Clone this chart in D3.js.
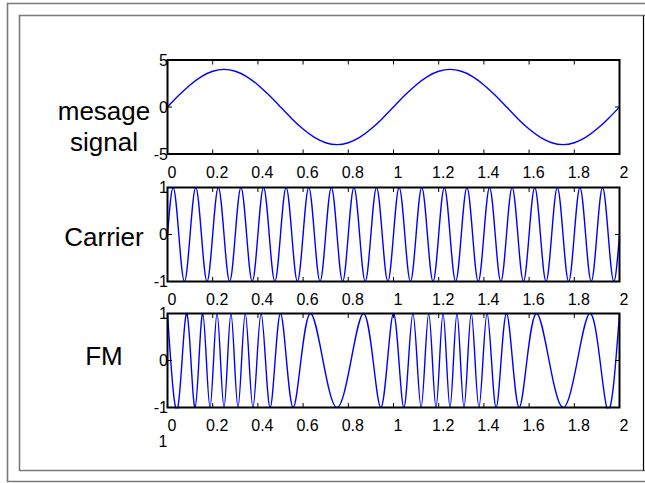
<!DOCTYPE html>
<html>
<head>
<meta charset="utf-8">
<script src="https://cdn.jsdelivr.net/npm/d3@7"></script>
<style>
  body { margin: 0; background: #fff; }
  svg text { font-family: Arial, "Liberation Sans", Helvetica, sans-serif; fill: #000; }
</style>
</head>
<body>
<svg id="chart"></svg>
<script>
// x axis ticks (time, s)
const xTicks = [0, 0.2, 0.4, 0.6, 0.8, 1, 1.2, 1.4, 1.6, 1.8, 2];
const xTickLabels = ["0", "0.2", "0.4", "0.6", "0.8", "1", "1.2", "1.4", "1.6", "1.8", "2"];

// message signal, sampled every 0.05 s
const messageStep = 0.05;
const messageValues = [
  0, 1.24, 2.35, 3.24, 3.80, 4.00, 3.80, 3.24, 2.35, 1.24,
  0, -1.24, -2.35, -3.24, -3.80, -4.00, -3.80, -3.24, -2.35, -1.24,
  0, 1.24, 2.35, 3.24, 3.80, 4.00, 3.80, 3.24, 2.35, 1.24,
  0, -1.24, -2.35, -3.24, -3.80, -4.00, -3.80, -3.24, -2.35, -1.24,
  0
];

// carrier, read every quarter cycle (0.025 s)
const carrierStep = 0.025;
const carrierValues = [
  0, 1, 0, -1, 0, 1, 0, -1, 0, 1, 0, -1, 0, 1, 0, -1, 0, 1, 0, -1,
  0, 1, 0, -1, 0, 1, 0, -1, 0, 1, 0, -1, 0, 1, 0, -1, 0, 1, 0, -1,
  0, 1, 0, -1, 0, 1, 0, -1, 0, 1, 0, -1, 0, 1, 0, -1, 0, 1, 0, -1,
  0, 1, 0, -1, 0, 1, 0, -1, 0, 1, 0, -1, 0, 1, 0, -1, 0, 1, 0, -1,
  0
];

// FM: times of peaks and troughs
const fmTimes = [
  0, 0.0458, 0.0858, 0.122, 0.1558, 0.1881, 0.2192, 0.25, 0.2808, 0.3119,
  0.3442, 0.378, 0.4142, 0.4542, 0.5, 0.5562, 0.6329, 0.75, 0.8671, 0.9438,
  1, 1.0458, 1.0858, 1.122, 1.1558, 1.1881, 1.2192, 1.25, 1.2808, 1.3119,
  1.3442, 1.378, 1.4142, 1.4542, 1.5, 1.5562, 1.6329, 1.75, 1.8671, 1.9438,
  2
];
const fmValues = [
  1, -1, 1, -1, 1, -1, 1, -1, 1, -1,
  1, -1, 1, -1, 1, -1, 1, -1, 1, -1,
  1, -1, 1, -1, 1, -1, 1, -1, 1, -1,
  1, -1, 1, -1, 1, -1, 1, -1, 1, -1,
  1
];

const width = 645, height = 483;
const plotLeft = 167.5, plotRight = 619.5, plotH = 94;

const panels = [
  { title: ["mesage", "signal"], titleY: [119.5, 150.5], top: 60,
    domain: [-5, 5], ticks: [-5, 0, 5], tickLabels: ["-5", "0", "5"],
    points: messageValues.map((v, i) => [i * messageStep, v]) },
  { title: ["Carrier"], titleY: [246], top: 187.5,
    domain: [-1, 1], ticks: [-1, 0, 1], tickLabels: ["-1", "0", "1"],
    points: carrierValues.map((v, i) => [i * carrierStep, v]) },
  { title: ["FM"], titleY: [365], top: 313.5,
    domain: [-1, 1], ticks: [-1, 0, 1], tickLabels: ["-1", "0", "1"],
    points: fmTimes.map((t, i) => [t, fmValues[i]]) }
];

const svg = d3.select("#chart").attr("width", width).attr("height", height);

// window frames
svg.append("path")
  .attr("d", `M${width + 2},3.5 H7.5 V481.5 H${width + 2}`)
  .attr("fill", "none").attr("stroke", "#7a7a7a").attr("stroke-width", 1.6);
svg.append("path")
  .attr("d", `M${width + 2},15.5 H19.5 V470.5 H${width + 2}`)
  .attr("fill", "none").attr("stroke", "#7a7a7a").attr("stroke-width", 1.6);
svg.append("line")
  .attr("x1", 643.5).attr("x2", 643.5).attr("y1", 15.5).attr("y2", 470.5)
  .attr("stroke", "#000").attr("stroke-width", 1.2);

const x = d3.scaleLinear().domain([0, 2]).range([plotLeft, plotRight]);

panels.forEach((p, idx) => {
  const y = d3.scaleLinear().domain(p.domain).range([p.top + plotH, p.top]);
  const g = svg.append("g");

  // clip
  const clipId = "clip" + idx;
  svg.append("clipPath").attr("id", clipId)
    .append("rect")
    .attr("x", plotLeft).attr("y", p.top - 1)
    .attr("width", plotRight - plotLeft).attr("height", plotH + 2);

  const line = d3.line()
    .x(d => x(d[0]))
    .y(d => y(d[1]))
    .curve(d3.curveNatural);

  g.append("path")
    .datum(p.points)
    .attr("clip-path", `url(#${clipId})`)
    .attr("fill", "none")
    .attr("stroke", "#0000ff")
    .attr("stroke-width", 1.4)
    .attr("d", line);

  // ticks inward on all four sides
  const tickLen = 4.5;
  xTicks.forEach(t => {
    g.append("line").attr("x1", x(t)).attr("x2", x(t))
      .attr("y1", p.top + plotH).attr("y2", p.top + plotH - tickLen)
      .attr("stroke", "#000").attr("stroke-width", 1);
    g.append("line").attr("x1", x(t)).attr("x2", x(t))
      .attr("y1", p.top).attr("y2", p.top + tickLen)
      .attr("stroke", "#000").attr("stroke-width", 1);
  });
  p.ticks.forEach(v => {
    g.append("line").attr("x1", plotLeft).attr("x2", plotLeft + tickLen)
      .attr("y1", y(v)).attr("y2", y(v))
      .attr("stroke", "#000").attr("stroke-width", 1);
    g.append("line").attr("x1", plotRight).attr("x2", plotRight - tickLen)
      .attr("y1", y(v)).attr("y2", y(v))
      .attr("stroke", "#000").attr("stroke-width", 1);
  });

  // box
  g.append("rect")
    .attr("x", plotLeft).attr("y", p.top)
    .attr("width", plotRight - plotLeft).attr("height", plotH)
    .attr("fill", "none").attr("stroke", "#000").attr("stroke-width", 2);

  // x tick labels
  g.selectAll(".xl").data(xTicks).join("text")
    .attr("x", d => x(d) + 4.5)
    .attr("y", p.top + plotH + 23.5)
    .attr("text-anchor", "middle")
    .attr("font-size", 16)
    .text((d, i) => xTickLabels[i]);

  // y tick labels
  g.selectAll(".yl").data(p.ticks).join("text")
    .attr("x", plotLeft + 0.5)
    .attr("y", d => y(d) + 5.8)
    .attr("text-anchor", "end")
    .attr("font-size", 16)
    .text((d, i) => p.tickLabels[i]);

  // row title
  p.title.forEach((s, i) => {
    g.append("text")
      .attr("x", 104).attr("y", p.titleY[i])
      .attr("text-anchor", "middle")
      .attr("font-size", 26)
      .text(s);
  });
});

// stray label under the last axes
svg.append("text")
  .attr("x", 163).attr("y", 446.5)
  .attr("text-anchor", "middle")
  .attr("font-size", 16)
  .text("1");
</script>
</body>
</html>
